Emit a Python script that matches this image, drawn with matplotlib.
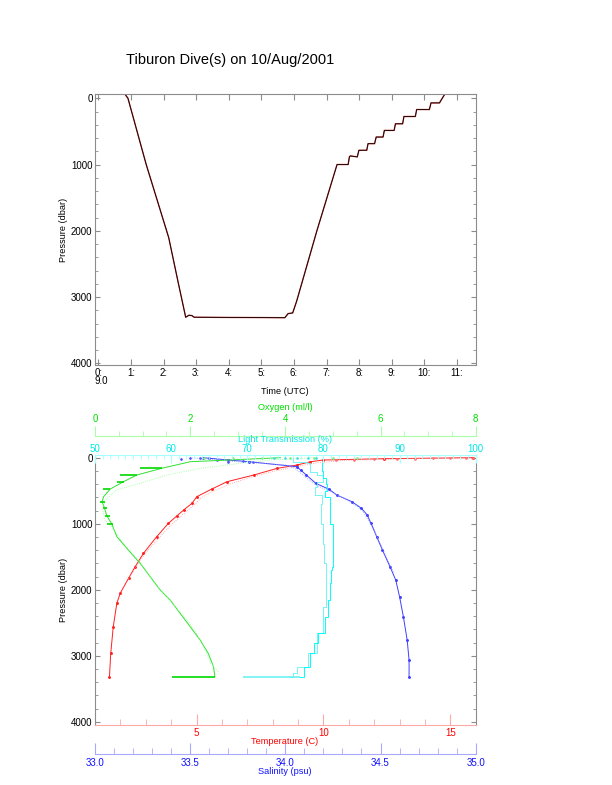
import matplotlib
matplotlib.use("Agg")
import matplotlib.pyplot as plt
from matplotlib.ticker import MultipleLocator, FixedLocator, FormatStrFormatter

plt.rcParams['font.family'] = ['Liberation Sans', 'DejaVu Sans']

# ---------------- data: top panel (dive track) ----------------
dive_time_h = [0.82, 0.91, 1.47, 2.16, 2.45, 2.68, 2.78, 2.87, 2.94, 4.0, 5.0, 5.72,
               5.82, 5.96, 6.08, 6.70, 7.32, 7.66, 7.70, 7.73, 7.94, 7.99, 8.23, 8.27,
               8.47, 8.52, 8.73, 8.77, 9.07, 9.11, 9.33, 9.37, 9.72, 9.76, 10.15, 10.20,
               10.46, 10.52, 10.62]
dive_pres = [-60, 0, 1000, 2104, 2780, 3305, 3275, 3280, 3305, 3308, 3310, 3312,
             3250, 3240, 3065, 2003, 1000, 1000, 880, 870, 885, 785, 785, 685,
             685, 585, 585, 485, 485, 385, 385, 275, 275, 170, 170, 70,
             70, 20, -60]
hour_ticks = [0, 1, 2, 3, 4, 5, 6, 7, 8, 9, 10, 11]
hour_labels = ["0:", "1:", "2:", "3:", "4:", "5:", "6:", "7:", "8:", "9:", "10:", "11:"]
pres_ticks = [0, 1000, 2000, 3000, 4000]

# ---------------- data: bottom panel (profiles) ----------------
temp_p_a = [0, 15, 35, 61, 111, 162, 263, 364, 475, 591, 692, 793, 884, 995, 1197,
            1449, 1652, 1828, 2056, 2207, 2560, 2965, 3318]
temp_a = [15.9, 12.4, 10.0, 9.49, 8.96, 8.17, 7.25, 6.2, 5.6, 5.01, 4.82, 4.49, 4.22,
          3.89, 3.43, 2.91, 2.58, 2.32, 1.99, 1.86, 1.72, 1.62, 1.57]
temp_p_b = [5, 40, 80, 130, 200, 300, 400, 500, 600, 700, 800, 900, 1000, 1200, 1450, 1650, 1850]
temp_b = [14.5, 10.8, 9.7, 9.0, 8.1, 7.1, 6.3, 5.7, 5.2, 4.95, 4.65, 4.35, 4.05, 3.55,
          2.98, 2.62, 2.3]
temp_surf_p = [30, 28, 22, 20, 15, 12, 8, 5, 2]
temp_surf = [10.5, 11.2, 12.0, 12.9, 13.6, 14.3, 15.0, 15.6, 15.9]

sal_p_a = [0, 35, 61, 136, 186, 262, 388, 479, 565, 667, 767, 868, 994, 1197, 1399,
           1652, 1854, 2106, 2409, 2763, 3066, 3318]
sal_a = [33.57, 33.70, 33.81, 34.06, 34.08, 34.11, 34.16, 34.23, 34.27, 34.35, 34.40,
         34.43, 34.45, 34.48, 34.51, 34.55, 34.58, 34.60, 34.62, 34.64, 34.65, 34.65]
sal_p_b = [0, 61, 110, 160, 230, 330, 430, 520, 620, 720, 820, 920, 1050, 1250, 1500, 1750]
sal_b = [33.50, 33.75, 34.00, 34.05, 34.08, 34.12, 34.17, 34.24, 34.31, 34.37, 34.41,
         34.43, 34.46, 34.49, 34.53, 34.57]
sal_surf_p = [15, 5, 0, 10, 30, 60, 55, 60]
sal_surf = [33.45, 33.50, 33.55, 33.60, 33.64, 33.70, 33.78, 33.83]

oxy_p_a = [0, 61, 161, 262, 363, 475, 591, 667, 765, 883, 1000, 1197, 1399, 1601,
           1803, 2005, 2157, 2359, 2560, 2763, 2965, 3167, 3318]
oxy_a = [3.9, 2.0, 1.40, 0.88, 0.60, 0.32, 0.18, 0.15, 0.20, 0.25, 0.35, 0.46, 0.70,
         0.95, 1.16, 1.37, 1.58, 1.79, 2.00, 2.21, 2.38, 2.49, 2.52]
oxy_p_b = [0, 35, 85, 161, 262, 388, 489, 641, 792, 944, 1070, 1300, 1600, 1900, 2200,
           2500, 2800, 3100, 3250]
oxy_b = [4.6, 3.68, 3.05, 2.21, 1.51, 0.95, 0.45, 0.22, 0.16, 0.21, 0.38, 0.60, 0.97,
         1.25, 1.62, 1.98, 2.25, 2.42, 2.60]
oxy_spike_p = [161, 262, 363, 475, 667, 765, 883, 1000, 3318]
oxy_spike_lo = [0.95, 0.53, 0.46, 0.17, 0.10, 0.17, 0.21, 0.25, 1.61]
oxy_spike_hi = [1.40, 0.88, 0.60, 0.32, 0.21, 0.25, 0.32, 0.38, 2.52]
oxy_surf_p = [5, 10, 2, 8, 0, 12, 4]
oxy_surf = [2.3, 2.9, 3.5, 4.1, 4.6, 5.0, 5.5]

lt_p_a = [0, 61, 85, 212, 262, 363, 439, 565, 700, 1000, 1300, 1600, 1904, 2258, 2660,
          2965, 3167, 3268, 3318]
lt_a = [76.0, 77.8, 78.2, 79.1, 79.9, 79.1, 78.9, 79.8, 79.7, 79.9, 80.1, 80.3, 80.4,
        80.0, 79.1, 78.0, 76.5, 76.05, 75.6]
lt_p_b = [85, 200, 300, 400, 500, 600, 1000, 1650, 1700, 1904, 2157, 2409, 2660, 2800,
          2965, 3167, 3318]
lt_b = [79.8, 79.9, 80.3, 80.5, 80.2, 80.9, 81.3, 81.1, 81.0, 80.9, 80.6, 80.2, 79.3,
        78.8, 78.3, 77.4, 76.9]
lt_bottom = [69.5, 76.9]
lt_surf_p = [3, 8, 0, 5, 2]
lt_surf = [73.5, 75.0, 76.5, 78.0, 79.0]

# ---------------- figure ----------------
W, H = 612, 785
fig = plt.figure(figsize=(W / 100, H / 100), dpi=100)
GRAY = '#8c8c8c'
TICKFS = 7
LABFS = 6.6


def fx(x):
    return x / W


def fy(y):
    return 1 - y / H


# ---- top panel ----
ax1 = fig.add_axes([fx(95), fy(365), fx(380.7), (365 - 94.3) / H])
ax1.plot(dive_time_h, dive_pres, color='#c04040', lw=1.0)
ax1.plot(dive_time_h, dive_pres, color='#100000', lw=0.6)
ax1.set_xlim(-0.1, 11.57)
ax1.set_ylim(4026, -60)
ax1.xaxis.set_major_locator(FixedLocator(hour_ticks))
ax1.set_xticklabels(hour_labels)
ax1.yaxis.set_major_locator(FixedLocator(pres_ticks))
ax1.yaxis.set_minor_locator(MultipleLocator(200))
ax1.tick_params(axis='both', which='both', direction='in', top=True, right=True,
                color=GRAY, labelsize=TICKFS)
ax1.tick_params(axis='x', which='major', length=4.5, pad=2)
ax1.tick_params(axis='y', which='major', length=3.8, pad=1.8)
ax1.tick_params(axis='y', which='minor', length=2.4)
for s in ax1.spines.values():
    s.set_color(GRAY)
    s.set_linewidth(0.8)
fig.text(fx(101), fy(381.5), "9.0", fontsize=TICKFS, ha='center', va='center')
fig.text(fx(285), fy(392), "Time (UTC)", fontsize=LABFS, ha='center', va='center')
fig.text(fx(63), fy(229.5), "Pressure (dbar)", fontsize=LABFS, ha='center', va='center',
         rotation=90)
fig.text(fx(230), fy(60), "Tiburon Dive(s) on 10/Aug/2001", fontsize=10.5,
         ha='center', va='center')

# ---- bottom panel ----
rect = [fx(95), fy(725), fx(380.7), 270 / H]
YL = (4050, -41)

axT = fig.add_axes(rect)
axS = fig.add_axes(rect)
axO = fig.add_axes(rect)
axL = fig.add_axes(rect)
for a in (axS, axO, axL):
    a.patch.set_visible(False)
    a.set_yticks([])
    for s in a.spines.values():
        s.set_visible(False)
for a in (axT, axS, axO, axL):
    a.set_ylim(*YL)

RED_AX, RED_TX = '#ffa8a8', '#ff0000'
BLU_AX, BLU_TX = '#a8a8ff', '#1010ff'
GRN_AX, GRN_TX = '#a8ffa8', '#00e000'
CYA_AX, CYA_TX = '#a8ffff', '#00e8e8'

# temperature / pressure frame
axT.set_xlim(1, 16)
axT.xaxis.set_major_locator(FixedLocator([5, 10, 15]))
axT.xaxis.set_minor_locator(MultipleLocator(1))
axT.yaxis.set_major_locator(FixedLocator(pres_ticks))
axT.yaxis.set_minor_locator(MultipleLocator(200))
axT.tick_params(axis='y', which='both', direction='in', right=True, color=GRAY,
                labelsize=TICKFS)
axT.tick_params(axis='y', which='major', length=3.8, pad=1.8)
axT.tick_params(axis='y', which='minor', length=2.4)
axT.tick_params(axis='x', which='both', direction='in', color=RED_AX, labelcolor=RED_TX,
                labelsize=TICKFS, top=False)
axT.tick_params(axis='x', which='major', length=8, pad=2)
axT.tick_params(axis='x', which='minor', length=4)
axT.spines['top'].set_visible(False)
for k in ('left', 'right'):
    axT.spines[k].set_color(GRAY)
    axT.spines[k].set_linewidth(0.8)
axT.spines['bottom'].set_color(RED_AX)
axT.spines['bottom'].set_linewidth(0.8)

# salinity axis below
axS.set_xlim(33.0, 35.0)
axS.spines['bottom'].set_visible(True)
axS.spines['bottom'].set_position(('axes', -29 / 270))
axS.spines['bottom'].set_color(BLU_AX)
axS.spines['bottom'].set_linewidth(0.8)
axS.xaxis.set_major_locator(MultipleLocator(0.5))
axS.xaxis.set_minor_locator(MultipleLocator(0.1))
axS.xaxis.set_major_formatter(FormatStrFormatter('%.1f'))
axS.tick_params(axis='x', which='both', direction='in', color=BLU_AX, labelcolor=BLU_TX,
                labelsize=TICKFS)
axS.tick_params(axis='x', which='major', length=8, pad=3)
axS.tick_params(axis='x', which='minor', length=4)

# oxygen axis above
axO.set_xlim(0, 8)
axO.xaxis.set_ticks_position('top')
axO.spines['top'].set_visible(True)
axO.spines['top'].set_position(('axes', 1 + 19.5 / 270))
axO.spines['top'].set_color(GRN_AX)
axO.spines['top'].set_linewidth(0.8)
axO.xaxis.set_major_locator(MultipleLocator(2))
axO.xaxis.set_minor_locator(MultipleLocator(0.5))
axO.tick_params(axis='x', which='both', direction='out', color=GRN_AX, labelcolor=GRN_TX,
                labelsize=TICKFS)
axO.tick_params(axis='x', which='major', length=7.2, pad=1.0)
axO.tick_params(axis='x', which='minor', length=3.6)

# light transmission axis at top of frame
axL.set_xlim(50, 100)
axL.xaxis.set_ticks_position('top')
axL.spines['top'].set_visible(True)
axL.spines['top'].set_color(CYA_AX)
axL.spines['top'].set_linewidth(0.8)
axL.xaxis.set_major_locator(MultipleLocator(10))
axL.xaxis.set_minor_locator(MultipleLocator(1))
axL.tick_params(axis='x', which='both', direction='in', color=CYA_AX, labelcolor=CYA_TX,
                labelsize=TICKFS)
axL.tick_params(axis='x', which='major', length=5.5, pad=0.4)
axL.tick_params(axis='x', which='minor', length=3)

# profiles
axT.plot(temp_a, temp_p_a, color='#ff2020', lw=0.7, marker='.', ms=2.2)
axT.plot(temp_b, temp_p_b, color='#ff9090', lw=0.6, ls=':')
axT.plot(temp_surf, temp_surf_p, ls='none', marker='.', ms=1.8, color='#ff7070')

axS.plot(sal_a, sal_p_a, color='#4040ff', lw=0.7, marker='.', ms=2.2)
axS.plot(sal_b, sal_p_b, color='#9090ff', lw=0.6, ls=':')
axS.plot(sal_surf, sal_surf_p, ls='none', marker='.', ms=1.8, color='#5050ff')

axO.plot(oxy_a, oxy_p_a, color='#30e030', lw=0.7)
axO.plot(oxy_b, oxy_p_b, color='#90ff90', lw=0.6, ls=':')
axO.hlines(oxy_spike_p, oxy_spike_lo, oxy_spike_hi, color='#00d800', lw=1.2)
axO.plot(oxy_surf, oxy_surf_p, ls='none', marker='.', ms=1.8, color='#80f080')

axL.plot(lt_a, lt_p_a, color='#60f4f4', lw=0.6, drawstyle='steps-pre')
axL.plot(lt_b, lt_p_b, color='#00ffff', lw=0.7, drawstyle='steps-pre')
axL.hlines([3318], [lt_bottom[0]], [lt_bottom[1]], color='#60f0f0', lw=1.1)
axL.plot(lt_surf, lt_surf_p, ls='none', marker='.', ms=1.8, color='#40e0e0')

fig.text(fx(285), fy(408), "Oxygen (ml/l)", fontsize=LABFS, ha='center', va='center',
         color=GRN_TX)
fig.text(fx(285), fy(439), "Light Transmission (%)", fontsize=LABFS, ha='center',
         va='center', color=CYA_TX)
fig.text(fx(285), fy(742), "Temperature (C)", fontsize=LABFS, ha='center', va='center',
         color=RED_TX)
fig.text(fx(285), fy(771.5), "Salinity (psu)", fontsize=LABFS, ha='center', va='center',
         color=BLU_TX)
fig.text(fx(63), fy(590), "Pressure (dbar)", fontsize=LABFS, ha='center', va='center',
         rotation=90)

fig.savefig("out.png", dpi=100)
